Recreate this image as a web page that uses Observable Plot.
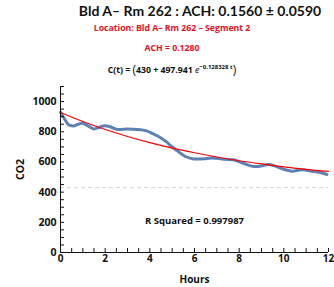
<!DOCTYPE html>
<html>
<head>
<meta charset="utf-8">
<script src="https://cdn.jsdelivr.net/npm/d3@7"></script>
<script src="https://cdn.jsdelivr.net/npm/@observablehq/plot@0.6"></script>
<style>
  html, body { margin: 0; padding: 0; background: #fff; }
  #wrap { position: relative; width: 334px; height: 287px; font-family: "Open Sans", sans-serif; overflow: hidden; }
  .t { position: absolute; white-space: nowrap; transform: translateX(-50%); font-weight: bold; line-height: 1; }
  #title { left: 200px; top: 4px; font-size: 14px; color: #111; font-family: Lato, sans-serif; font-weight: 700; }
  #loc { left: 172px; top: 24px; font-size: 8.7px; color: #e0141e; }
  #ach { left: 172px; top: 44px; font-size: 8.7px; color: #e0141e; }
  #eq { left: 172px; top: 64px; font-size: 8.7px; color: #111; }
  #eq .p { font-size: 12px; font-weight: normal; vertical-align: -1px; }
  #eq sup { font-size: 6px; vertical-align: 4px; }
  #chart { position: absolute; left: 0; top: 80px; }
</style>
</head>
<body>
<div id="wrap">
  <div class="t" id="title"></div>
  <div class="t" id="loc"></div>
  <div class="t" id="ach"></div>
  <div class="t" id="eq"></div>
  <div id="chart"></div>
</div>
<script>
// ---- data ----
const titleText = "Bld A\u2013 Rm 262 : ACH: 0.1560 \u00b1 0.0590";
const locationText = "Location: Bld A\u2013 Rm 262 \u2013 Segment 2";
const achText = "ACH = 0.1280";
const rSquaredText = "R Squared = 0.997987";
const baseline = 430;           // asymptote of the fit (dashed line)
const amplitude = "497.941";
const rate = "0.128328";

// measured CO2 trace (blue)
const hours = [0, 0.2, 0.37, 0.55, 0.97, 1.25, 1.49, 1.75, 1.97, 2.25, 2.55, 3.0, 3.45, 3.85, 4.1, 4.35, 4.55, 4.75, 4.92, 5.22, 5.59, 5.96, 6.5, 6.8, 7.31, 7.75, 8.2, 8.65, 8.95, 9.32, 9.62, 10.07, 10.37, 10.81, 11.26, 11.63, 11.93];
const co2 = [929, 880, 846, 838, 856, 838, 819, 830, 840, 832, 815, 818, 815, 806, 790, 772, 753, 733, 709, 675, 636, 620, 622, 627, 618, 614, 590, 570, 572, 583, 572, 548, 539, 548, 539, 530, 517];

// fitted curve (red), read at each hour
const fitHours = [0, 1, 2, 3, 4, 5, 6, 7, 8, 9, 10, 11, 12];
const fitCO2 = [928, 868, 815, 769, 728, 692, 661, 633, 608, 587, 568, 551, 537];

// tick values
const yMajor = [0, 200, 400, 600, 800, 1000];
const yMinor = d3.range(0, 1101, 50);
const xMajor = [0, 2, 4, 6, 8, 10, 12];
const xMinor = d3.range(0, 12.01, 0.5);
const rLabelPos = [{x: 6, y: 207}];

// ---- header text ----
document.getElementById("title").textContent = titleText;
document.getElementById("loc").textContent = locationText;
document.getElementById("ach").textContent = achText;
document.getElementById("eq").innerHTML =
  `C(t) = <span class="p">(</span>${baseline} + ${amplitude} <i style="font-weight:normal">e</i><sup>\u2212${rate} t</sup><span class="p">)</span>`;

const measured = hours.map((h, i) => ({h, c: co2[i]}));
const fit = fitHours.map((h, i) => ({h, c: fitCO2[i]}));

const font = "Open Sans, sans-serif";
const chart = Plot.plot({
  width: 334,
  height: 207,
  marginTop: 6,
  marginBottom: 35,
  marginLeft: 60,
  marginRight: 6,
  style: {fontFamily: font, fontWeight: "bold", fontSize: "10px", color: "#111", background: "white"},
  x: {domain: [0, 12]},
  y: {domain: [0, 1100]},
  marks: [
    Plot.ruleY([baseline], {stroke: "#d8d8d8", strokeDasharray: "4,3"}),
    Plot.line(measured, {x: "h", y: "c", stroke: "#5e81b5", strokeWidth: 3, curve: "catmull-rom"}),
    Plot.line(fit, {x: "h", y: "c", stroke: "#ff0000", strokeWidth: 1.2, curve: "catmull-rom"}),
    Plot.ruleX([0], {stroke: "#111"}),
    Plot.ruleY([0], {stroke: "#111"}),
    Plot.axisY({ticks: yMinor, tickSize: 4, dx: 4, text: null, label: null, stroke: "#111"}),
    Plot.axisX({ticks: xMinor, tickSize: 4, dy: -4, text: null, label: null, stroke: "#111"}),
    Plot.axisY({ticks: yMajor, tickSize: 0, tickPadding: 4, fontSize: 10.5, fontWeight: "bold", tickFormat: d3.format("d"),
      label: "CO2", labelAnchor: "center", labelOffset: 44, labelArrow: "none"}),
    Plot.axisX({ticks: xMajor, tickSize: 0, tickPadding: 2, fontSize: 10, fontWeight: "bold", tickFormat: d3.format("d"),
      label: "Hours", labelAnchor: "center", labelOffset: 30, labelArrow: "none"}),
    Plot.text(rLabelPos, {x: "x", y: "y", text: () => rSquaredText, fontSize: 9.5, fontWeight: "bold", fill: "#111"})
  ]
});
document.getElementById("chart").appendChild(chart);
</script>
</body>
</html>
